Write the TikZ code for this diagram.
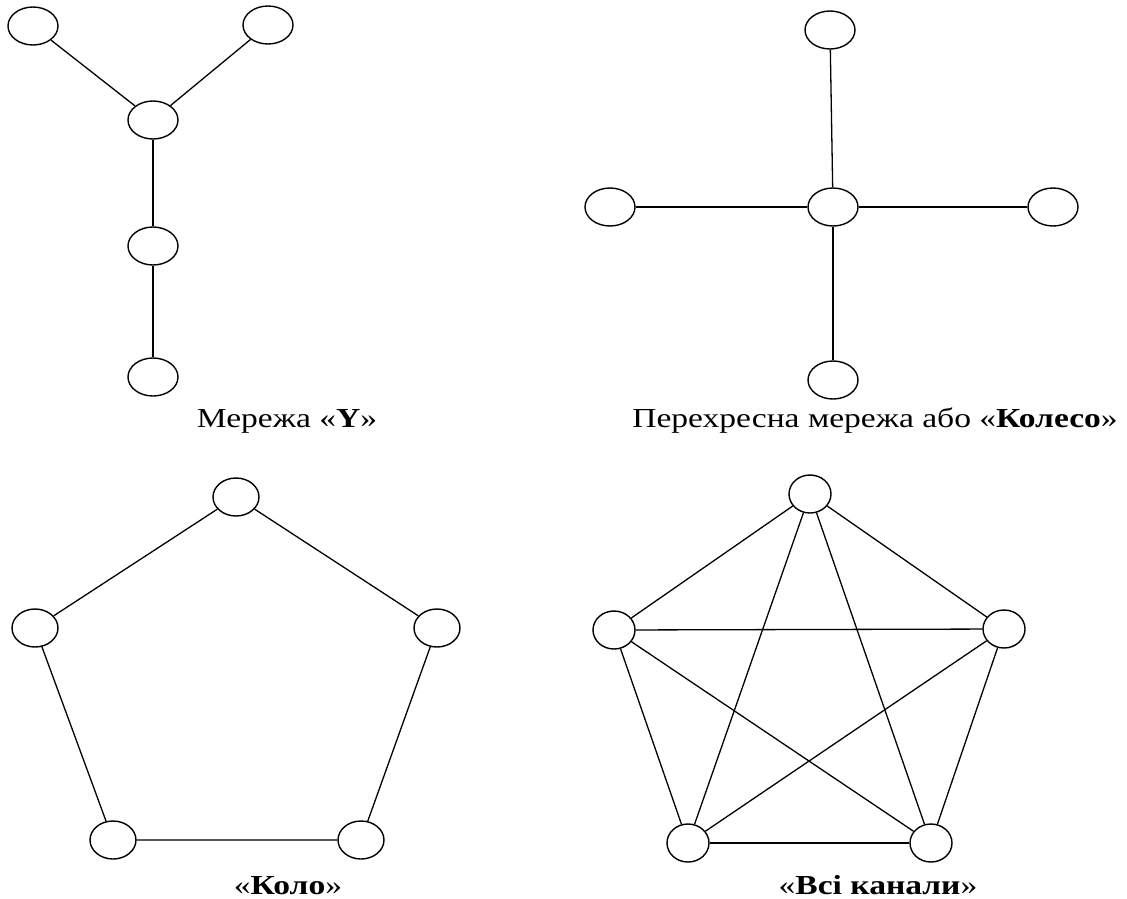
\documentclass[tikz,border=0pt]{standalone}
\usepackage{fontspec}
\usepackage{graphicx}
\setmainfont{Liberation Serif}
\usetikzlibrary{shapes.geometric}
\newcommand{\wide}[1]{\scalebox{1.22}[1]{#1}}
\begin{document}
\begin{tikzpicture}[x=1pt,y=-1pt,
  nd/.style={draw, ellipse, minimum width=50pt, minimum height=38pt, inner sep=0pt, line width=1.4pt},
  rn/.style={nd, minimum width=46pt},
  kn/.style={nd, minimum width=42pt},
  ed/.style={line width=1.3pt},
  lbl/.style={font=\fontsize{27.5}{30}\selectfont, inner sep=0pt, anchor=base}]
\useasboundingbox (0,0) rectangle (1127,898);
% Y network
\node[nd] (ya) at (33,26) {};
\node[nd] (yb) at (268,25) {};
\node[nd] (yc) at (153,120) {};
\node[nd] (yd) at (153,246) {};
\node[nd] (ye) at (153,377) {};
\draw[ed] (ya) -- (yc);
\draw[ed] (yb) -- (yc);
\draw[ed] (yc) -- (yd);
\draw[ed] (yd) -- (ye);
\node[lbl] (ly) at (287,427) {\wide{Мережа «\textbf{Y}»}};
% Wheel
\node[nd] (wt) at (830,30) {};
\node[nd] (wl) at (610,207) {};
\node[nd] (wc) at (833,207) {};
\node[nd] (wr) at (1053,207) {};
\node[nd] (wb) at (833,380) {};
\draw[ed] (wt) -- (wc);
\draw[ed] (wl) -- (wc);
\draw[ed] (wr) -- (wc);
\draw[ed] (wb) -- (wc);
\node[lbl] (lw) at (875,427) {\wide{Перехресна мережа або «\textbf{Колесо}»}};
% Ring
\node[rn] (ra) at (236,497) {};
\node[rn] (rb) at (35,628) {};
\node[rn] (rc) at (437,628) {};
\node[rn] (rd) at (113,840) {};
\node[rn] (re) at (361,840) {};
\draw[ed] (ra) -- (rc) -- (re) -- (rd) -- (rb) -- (ra);
\node[lbl] (lr) at (288,894) {\wide{«\textbf{Коло}»}};
% All channels
\node[kn] (ka) at (810,494) {};
\node[kn] (kb) at (614,630) {};
\node[kn] (kc) at (1004,629) {};
\node[kn] (kd) at (688,843) {};
\node[kn] (ke) at (931,843) {};
\foreach \a/\b in {ka/kb,ka/kc,ka/kd,ka/ke,kb/kc,kb/kd,kb/ke,kc/kd,kc/ke,kd/ke}
  \draw[ed] (\a) -- (\b);
\node[lbl] (lk) at (878,894) {\wide{«\textbf{Всі канали}»}};
\end{tikzpicture}
\end{document}
